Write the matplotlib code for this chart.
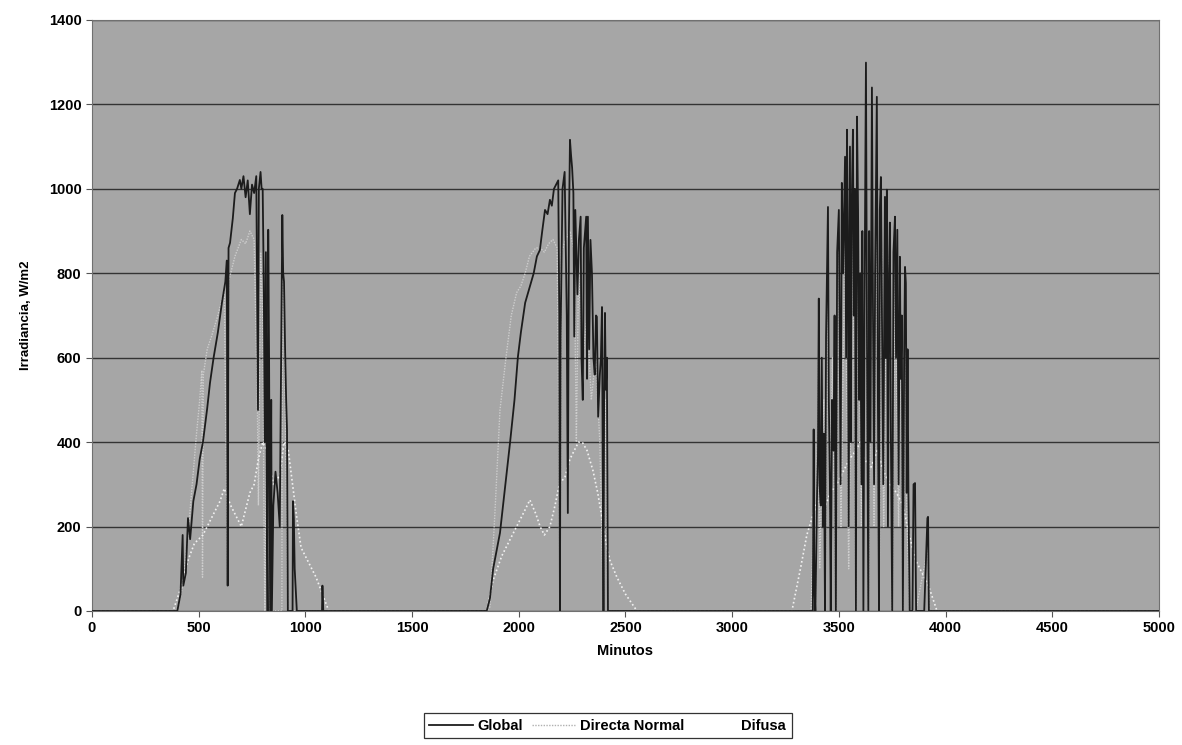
import matplotlib
matplotlib.use("Agg")
import matplotlib.pyplot as plt

plt.rcParams['font.family'] = ['Liberation Sans', 'DejaVu Sans']

# Global irradiance, (minute, W/m2), three days
glob_min = [0, 380, 400, 415, 425, 428, 440, 450, 460, 475, 490, 505, 520, 540, 553, 570, 590, 609,
            625, 632, 636, 640, 647, 660, 670, 680, 693, 700, 710, 720, 730, 740, 750, 760, 770,
            775, 778, 782, 790, 795, 800, 805, 810, 815, 820, 823, 826, 830, 835, 840, 843, 850,
            860, 870, 880, 888, 892, 896, 900, 905, 910, 914, 918, 940, 942, 946, 950, 960, 1078,
            1080, 1084,
            1850, 1865, 1880, 1895, 1912, 1935, 1959, 1980, 1996, 2010, 2030, 2052, 2070, 2085,
            2099, 2110, 2123, 2135, 2146, 2155, 2165, 2179, 2185, 2190, 2193, 2196, 2205, 2215,
            2225, 2230, 2235, 2240, 2245, 2250, 2256, 2260, 2265, 2275, 2282, 2290, 2294, 2300,
            2305, 2316, 2320, 2324, 2330, 2336, 2343, 2350, 2356, 2362, 2366, 2372, 2380, 2385,
            2390, 2394, 2397, 2400, 2404, 2408, 2413, 2418, 2430,
            3370, 3378, 3382, 3385, 3390, 3398, 3402, 3406, 3410, 3415, 3420, 3425, 3430, 3435,
            3440, 3449, 3453, 3458, 3462, 3468, 3475, 3480, 3486, 3492, 3500, 3508, 3514, 3520,
            3529, 3534, 3538, 3542, 3546, 3552, 3556, 3560, 3566, 3570, 3575, 3580, 3585, 3590,
            3595, 3600, 3606, 3610, 3615, 3620, 3627, 3632, 3638, 3642, 3648, 3655, 3660, 3665,
            3670, 3678, 3683, 3688, 3692, 3697, 3702, 3708, 3716, 3720, 3725, 3730, 3735, 3739,
            3744, 3750, 3756, 3763, 3768, 3774, 3780, 3786, 3790, 3795, 3800, 3806, 3810, 3814,
            3818, 3822, 3826, 3832, 3845, 3850, 3857, 3862, 3900, 3915, 3918, 3922, 3940, 5000]
glob_val = [0, 0, 0, 40, 180, 60, 90, 220, 170, 260, 300, 360, 400, 480, 540, 600, 660, 730,
            780, 830, 60, 860, 872, 930, 990, 1000, 1021, 1000, 1030, 980, 1020, 940, 1010, 990, 1030,
            700, 476, 1000, 1040, 1000, 1000, 780, 400, 850, 200, 0, 903, 600, 0, 500, 0, 250,
            330, 280, 200, 700, 938, 800, 780, 620, 500, 430, 0, 0, 260, 220, 100, 0, 0,
            60, 0,
            0, 30, 100, 140, 185, 290, 398, 500, 602, 660, 730, 768, 800, 840,
            855, 900, 950, 940, 974, 960, 1000, 1014, 1020, 700, 0, 650, 1000, 1040,
            700, 232, 900, 1116, 1080, 1050, 990, 650, 950, 750, 880, 934, 600, 500,
            860, 934, 550, 934, 620, 879, 800, 600, 560, 700, 697, 460, 560, 600,
            720, 300, 0, 500, 706, 524, 600, 0, 0,
            0, 0, 430, 60, 0, 280, 365, 740, 300, 250, 600, 200, 420, 0,
            650, 957, 500, 300, 0, 500, 380, 700, 0, 850, 950, 300, 1014, 800,
            1076, 600, 1140, 900, 200, 1100, 400, 950, 1140, 700, 1000, 0, 1171, 950,
            500, 800, 300, 900, 0, 700, 1299, 620, 0, 900, 400, 1240, 700, 300,
            800, 1218, 500, 0, 950, 1028, 700, 300, 981, 600, 998, 200, 800, 920,
            400, 0, 850, 934, 600, 903, 300, 839, 550, 700, 0, 600, 815, 777,
            280, 620, 280, 0, 0, 300, 303, 0, 0, 220, 223, 0, 0, 0]

# Directa Normal
dni_min = [0, 400, 425, 450, 470, 490, 505, 515, 518, 522, 540, 560, 590, 620, 636, 640, 670, 700,
           720, 740, 760, 775, 780, 790, 800, 805, 810, 826, 832, 890, 892, 900, 910, 918,
           1850, 1865, 1890, 1912, 1940, 1965, 1990, 2010, 2030, 2050, 2080, 2100, 2120, 2140,
           2160, 2180, 2190, 2193, 2200, 2220, 2240, 2260, 2270, 2280, 2300, 2320, 2340, 2360,
           2380, 2397, 2405, 2418,
           3370, 3385, 3390, 3405, 3410, 3430, 3435, 3449, 3458, 3470, 3486, 3500, 3510, 3529,
           3546, 3566, 3580, 3590, 3606, 3627, 3638, 3655, 3665, 3678, 3688, 3700, 3710, 3725,
           3740, 3750, 3763, 3780, 3790, 3800, 3812, 3820, 3832, 3860, 3918, 3925, 5000]
dni_val = [0, 0, 60, 180, 300, 420, 500, 570, 80, 560, 620, 650, 700, 760, 60, 780, 840, 880,
           870, 900, 880, 500, 250, 850, 700, 300, 0, 800, 0, 0, 850, 700, 300, 0,
           0, 10, 250, 476, 600, 700, 754, 770, 800, 840, 860, 860, 850, 870,
           880, 860, 300, 0, 850, 880, 900, 850, 400, 800, 600, 700, 500, 600,
           400, 0, 500, 0,
           0, 300, 0, 600, 100, 500, 0, 800, 200, 600, 0, 850, 200, 900,
           100, 950, 0, 900, 200, 1000, 0, 950, 200, 950, 0, 850, 200, 850,
           800, 0, 800, 200, 700, 0, 650, 200, 0, 0, 150, 0, 0]

# Difusa
dif_min = [0, 380, 420, 450, 480, 520, 560, 600, 620, 650, 680, 700, 720, 740, 760, 780, 800, 820,
           850, 880, 900, 920, 940, 960, 980, 1000, 1020, 1050, 1080, 1110,
           1850, 1880, 1920, 1960, 2000, 2030, 2052, 2080, 2100, 2120, 2146, 2170, 2190, 2217,
           2240, 2260, 2280, 2300, 2320, 2348, 2370, 2390, 2410, 2427, 2460, 2500, 2554,
           3280, 3320, 3350, 3380, 3400, 3430, 3460, 3490, 3520, 3550, 3580, 3600, 3620, 3650,
           3680, 3710, 3740, 3770, 3800, 3830, 3860, 3890, 3920, 3960, 5000]
dif_val = [0, 0, 60, 120, 160, 180, 220, 260, 290, 250, 220, 200, 240, 280, 300, 360, 400, 380,
           300, 320, 400, 380, 300, 220, 150, 130, 110, 80, 40, 0,
           0, 73, 130, 170, 210, 240, 263, 230, 200, 180, 200, 250, 300, 318,
           360, 380, 400, 398, 380, 332, 280, 220, 160, 120, 80, 40, 0,
           0, 100, 180, 230, 260, 240, 280, 300, 330, 360, 380, 400, 360, 340,
           380, 330, 300, 280, 250, 180, 120, 90, 60, 0, 0]

fig = plt.figure(figsize=(11.82, 7.45), dpi=100)
ax = fig.add_axes([0.0778, 0.1799, 0.9027, 0.7933])
ax.set_facecolor('#a6a6a6')

ax.plot(dni_min, dni_val, color='#cdcdcd', lw=1.0, ls=(0, (1, 1)), label='Directa Normal', zorder=3)
ax.plot(dif_min, dif_val, color='#f2f2f2', lw=1.2, ls=(0, (1, 1.5)), label='Difusa', zorder=4)
ax.plot(glob_min, glob_val, color='#1c1c1c', lw=1.3, label='Global', zorder=5)

ax.set_xlim(0, 5000)
ax.set_ylim(0, 1400)
ax.set_xticks(range(0, 5001, 500))
ax.set_yticks(range(0, 1401, 200))
ax.yaxis.grid(True, color='#333333', lw=1.0)
ax.set_axisbelow(True)
for s in ax.spines.values():
    s.set_color('#707070')
    s.set_linewidth(0.8)
ax.tick_params(axis='both', direction='out', length=4, width=0.8, color='#555555', labelsize=10.5)
for lab in ax.get_xticklabels() + ax.get_yticklabels():
    lab.set_fontweight('bold')
ax.tick_params(axis='x', pad=3)

ax.set_xlabel('Minutos', fontsize=10.5, fontweight='bold', labelpad=7)
ax.set_ylabel('Irradiancia, W/m2', fontsize=9.5, fontweight='bold', labelpad=12)

# legend order as in the original: Global, Directa Normal, Difusa
h, l = ax.get_legend_handles_labels()
order = [2, 0, 1]
leg = fig.legend([h[i] for i in order], [l[i] for i in order], loc='center',
                 bbox_to_anchor=(0.514, 0.026), ncol=3, frameon=True, fancybox=False,
                 handlelength=3.0, handletextpad=0.3, columnspacing=0.6, borderpad=0.4,
                 prop={'weight': 'bold', 'size': 10.5})
leg.get_frame().set_edgecolor('black')
leg.get_frame().set_linewidth(0.9)
leg.legend_handles[2].set_color('white')
leg.legend_handles[1].set_color('#b0b0b0')

fig.savefig('out.png', dpi=100, facecolor='white')
